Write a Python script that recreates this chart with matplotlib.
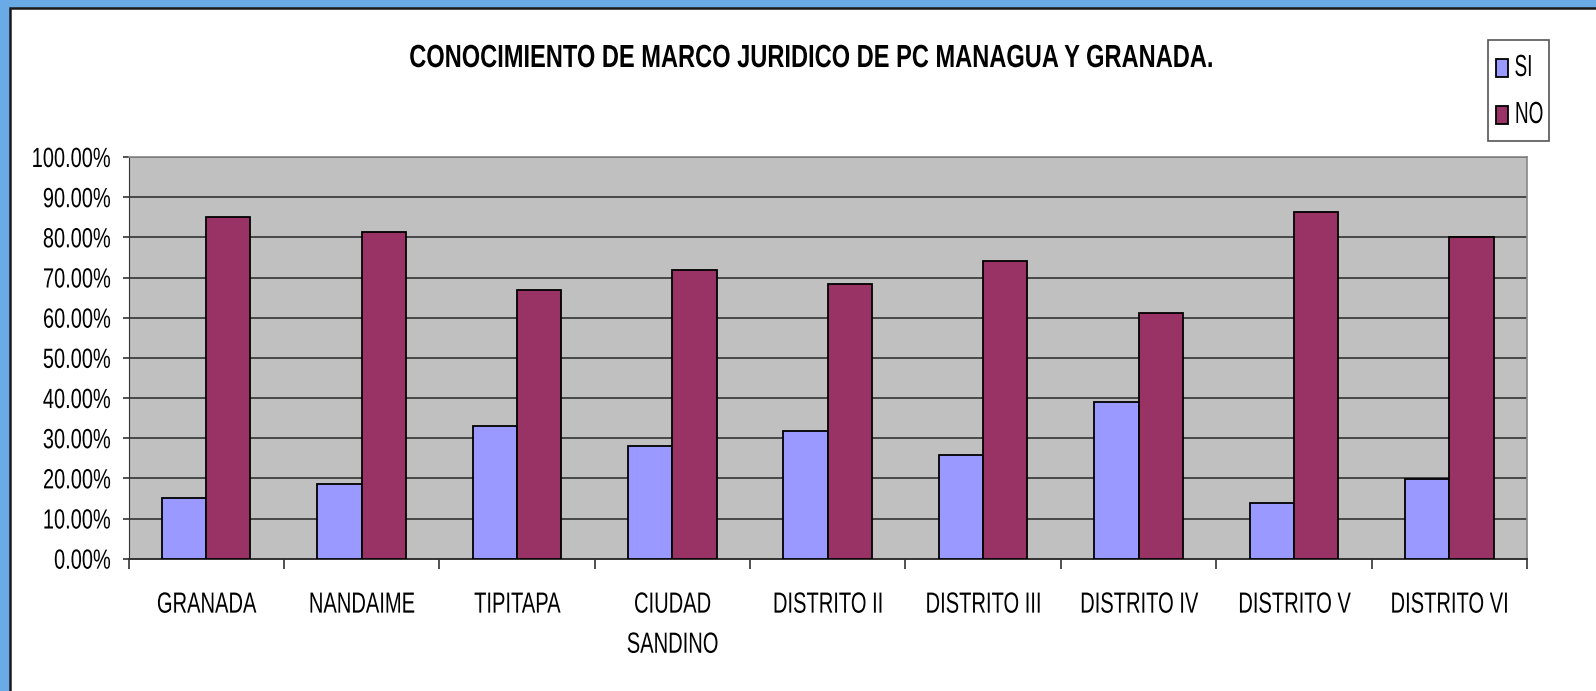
import numpy as np
import matplotlib
matplotlib.use("Agg")
import matplotlib.pyplot as plt
from matplotlib.patches import Rectangle
from matplotlib.ticker import FixedLocator, PercentFormatter
from matplotlib.patheffects import AbstractPathEffect
from matplotlib.transforms import Affine2D

# datos
lugares = ["GRANADA", "NANDAIME", "TIPITAPA", "CIUDAD\nSANDINO", "DISTRITO II",
           "DISTRITO III", "DISTRITO IV", "DISTRITO V", "DISTRITO VI"]
si = [15.0, 18.6, 33.0, 28.1, 31.7, 25.9, 38.9, 13.8, 19.8]
no = [85.0, 81.4, 67.0, 71.9, 68.3, 74.1, 61.1, 86.2, 80.2]
series = ["SI", "NO"]
colores = ["#9999ff", "#993366"]
y_ticks = np.arange(0, 101, 10)

W, H = 1596, 691


def fx(x):
    return x / W


def fy(y):
    return 1 - y / H


# efecto para estrechar el texto (la fuente original es tipo Arial Narrow)
class Estrecho(AbstractPathEffect):
    def __init__(self, sx=0.7, ancla='center'):
        super().__init__()
        self.sx = sx
        self.ancla = ancla

    def draw_path(self, renderer, gc, tpath, affine, rgbFace=None):
        ext = tpath.get_extents(affine)
        if self.ancla == 'right':
            cx = ext.x1
        elif self.ancla == 'left':
            cx = ext.x0
        else:
            cx = (ext.x0 + ext.x1) / 2
        t = affine + Affine2D().translate(-cx, 0).scale(self.sx, 1).translate(cx, 0)
        renderer.draw_path(gc, tpath, t, rgbFace)


plt.rcParams['font.family'] = ['Liberation Sans', 'DejaVu Sans']

fig = plt.figure(figsize=(W / 100, H / 100), dpi=100)
fig.patch.set_facecolor('#6aaae6')

# marco blanco del grafico
marco = Rectangle((fx(10), -0.01), 1.0, fy(8) + 0.01, transform=fig.transFigure,
                  facecolor='white', edgecolor='#1a1a1a', linewidth=1.8, zorder=-5)
fig.patches.append(marco)

ax = fig.add_axes([fx(128.5), fy(558.7), fx(1527 - 128.5), (558.7 - 157) / H])
ax.set_facecolor('#c0c0c0')

x = np.arange(len(lugares))
w = 0.285
b1 = ax.bar(x - w / 2, si, w, color=colores[0], edgecolor='black', linewidth=1.3, zorder=3)
b2 = ax.bar(x + w / 2, no, w, color=colores[1], edgecolor='black', linewidth=1.3, zorder=3)

ax.set_xlim(-0.5, len(lugares) - 0.5)
ax.set_ylim(0, 100)
ax.set_yticks(y_ticks)
ax.yaxis.set_major_formatter(PercentFormatter(decimals=2))
ax.yaxis.grid(True, color='#333333', linewidth=1.2, zorder=1)
ax.set_axisbelow(True)

ax.set_xticks(x)
ax.set_xticklabels(lugares)
ax.xaxis.set_minor_locator(FixedLocator(np.arange(-0.5, len(lugares), 1.0)))
ax.tick_params(axis='x', which='major', length=0, pad=23, labelsize=21)
ax.tick_params(axis='x', which='minor', length=7, width=1.2, color='#333333')
ax.tick_params(axis='y', length=4.5, width=1.2, pad=8, labelsize=20, color='#333333')
for lbl in ax.get_xticklabels():
    lbl.set_linespacing(1.55)
    lbl.set_path_effects([Estrecho(0.69)])
for lbl in ax.get_yticklabels():
    lbl.set_path_effects([Estrecho(0.72, 'right')])

for s in ['top', 'right']:
    ax.spines[s].set_color('#888888')
    ax.spines[s].set_linewidth(1.2)
ax.spines['left'].set_color('#333333')
ax.spines['bottom'].set_color('#333333')
ax.spines['bottom'].set_linewidth(1.4)

fig.text(fx(812), fy(59), "CONOCIMIENTO DE MARCO JURIDICO DE PC MANAGUA Y GRANADA.",
         ha='center', va='center', fontsize=23, fontweight='bold',
         path_effects=[Estrecho(0.74)])

# leyenda dibujada a mano
fig.patches.append(Rectangle((fx(1488), fy(141)), fx(61), 101 / H, transform=fig.transFigure,
                             facecolor='white', edgecolor='#555555', linewidth=1.2))
for i, (nombre, c) in enumerate(zip(series, colores)):
    yc = 68 + 47 * i
    fig.patches.append(Rectangle((fx(1496), fy(yc + 9)), fx(12), 18 / H, transform=fig.transFigure,
                                 facecolor=c, edgecolor='black', linewidth=1.3))
    fig.text(fx(1514), fy(yc), nombre, ha='left', va='center', fontsize=22,
             path_effects=[Estrecho(0.62, 'left')])

fig.savefig("out.png", dpi=100, facecolor=fig.get_facecolor())
